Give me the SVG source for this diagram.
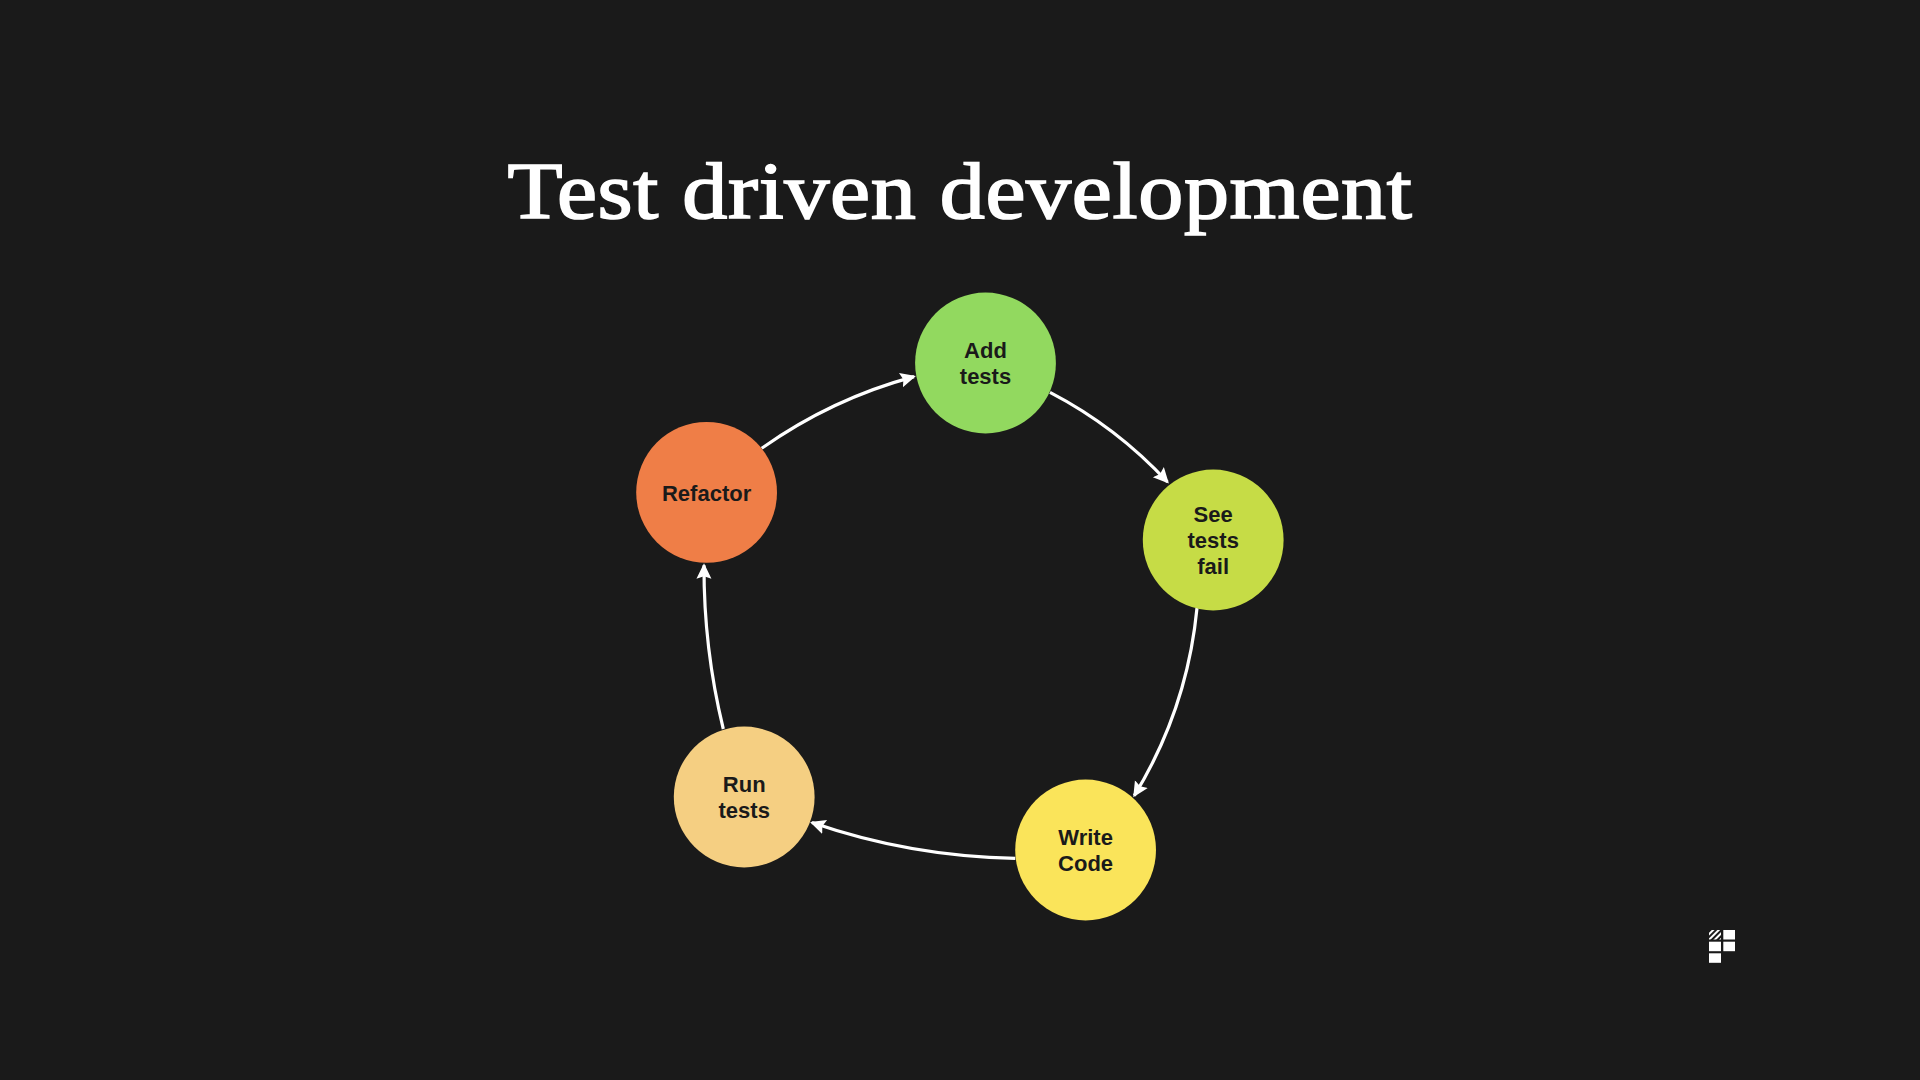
<svg xmlns="http://www.w3.org/2000/svg" width="1920" height="1080" viewBox="0 0 1920 1080">
<style>
.t{font-family:"Liberation Sans",Arial,sans-serif;font-weight:700;font-size:22px;fill:#1a1a1a;text-anchor:middle}
.title{font-family:"Liberation Serif","Times New Roman",serif;font-size:81px;letter-spacing:0.6px;fill:#fff;stroke:#fff;stroke-width:1.7px;text-anchor:middle}
.c{fill:none;stroke:#fff;stroke-width:3.2;marker-end:url(#arrow)}
.l{fill:#fff}
</style>
<defs>
<marker id="arrow" markerUnits="userSpaceOnUse" markerWidth="18" markerHeight="18" viewBox="0 0 18 18" refX="13.5" refY="9" orient="auto">
<path d="M0 1.5 L15.5 9 L0 16.5 L2.5 9 Z" fill="#fff"/>
</marker>
<pattern id="hatch" width="4" height="4" patternUnits="userSpaceOnUse" patternTransform="rotate(45)">
<rect width="4" height="4" fill="#1a1a1a"/><rect width="2" height="4" fill="#fff"/>
</pattern>
</defs>
<rect width="1920" height="1080" fill="#1a1a1a"/>
<text class="title" x="960" y="218" textLength="905" lengthAdjust="spacingAndGlyphs">Test driven development</text>
<g id="connectors">
<path class="c" d="M761.7 448.3 A480 480 0 0 1 914 376.6"/>
<path class="c" d="M1050 392.3 A430 430 0 0 1 1167.5 482"/>
<path class="c" d="M1197 608 A440 440 0 0 1 1134.3 795.6"/>
<path class="c" d="M1015.3 858.3 A650 650 0 0 1 811.9 822.6"/>
<path class="c" d="M723.3 729 A680 680 0 0 1 704 565.3"/>
</g>
<g id="add-tests"><circle cx="985.5" cy="363" r="70.4" fill="#92d95f"/><text class="t" x="985.5" y="358.3">Add</text><text class="t" x="985.5" y="384.3">tests</text></g>
<g id="see-tests-fail"><circle cx="1213.2" cy="540" r="70.4" fill="#c6dc46"/><text class="t" x="1213.2" y="522.3">See</text><text class="t" x="1213.2" y="548.3">tests</text><text class="t" x="1213.2" y="574.3">fail</text></g>
<g id="write-code"><circle cx="1085.6" cy="850" r="70.4" fill="#fae45a"/><text class="t" x="1085.6" y="845.3">Write</text><text class="t" x="1085.6" y="871.3">Code</text></g>
<g id="run-tests"><circle cx="744.2" cy="797" r="70.4" fill="#f5cf82"/><text class="t" x="744.2" y="792.3">Run</text><text class="t" x="744.2" y="818.3">tests</text></g>
<g id="refactor"><circle cx="706.6" cy="492.4" r="70.4" fill="#ef7e47"/><text class="t" x="706.6" y="500.6">Refactor</text></g>
<g id="logo">
<rect x="1709" y="930" width="12" height="9.5" fill="url(#hatch)"/>
<rect class="l" x="1723.3" y="930" width="11.7" height="9.5"/>
<rect class="l" x="1709" y="941.7" width="12" height="9.5"/>
<rect class="l" x="1723.3" y="941.7" width="11.7" height="9.5"/>
<rect class="l" x="1709" y="953.3" width="12" height="9.5"/>
</g>
</svg>
